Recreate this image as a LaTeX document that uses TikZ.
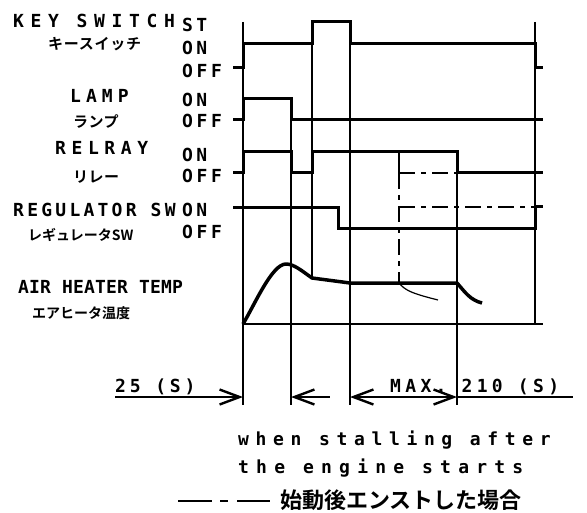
\documentclass[tikz,border=0pt]{standalone}
\usepackage{fontspec}
\newfontfamily\lblfont{DejaVu Sans Mono Bold}
\newfontfamily\jpfont{Noto Sans CJK JP Bold}
\usepackage{tikz}
\usetikzlibrary{arrows.meta}
\tikzstyle{thinline} = [line width=1.2bp]
\tikzstyle{sig} = [line width=3bp]
\tikzstyle{chain} = [line width=1.4bp, dash pattern=on 16bp off 6bp on 5bp off 6bp]
\tikzstyle{span} = [line width=1.2bp]
\tikzset{
  lbl/.style={inner sep=0pt, anchor=base west,
    font=\fontsize{18bp}{18bp}\lblfont\addfontfeature{LetterSpace=#1}},
  jp/.style={inner sep=0pt, anchor=base west,
    font=\fontsize{15bp}{15bp}\jpfont\addfontfeature{LetterSpace=#1}},
  barb/.tip={Straight Barb[length=20bp, width=15bp, line width=2.4bp]}
}

\begin{document}
\begin{tikzpicture}[x=1bp, y=-1bp]
    \useasboundingbox (0,0) rectangle (587,513);
    % time marks
    \draw[thinline] (243,22) -- (243,405);
    \draw[thinline] (291,99) -- (291,405);
    \draw[thinline] (312,22) -- (312,278);
    \draw[thinline] (350,22) -- (350,405);
    \draw[thinline] (399,152) -- (399,173);
    \draw[chain] (399,173) -- (399,283);
    \draw[thinline] (457,152) -- (457,405);
    \draw[thinline] (535,22) -- (535,324);
    % key switch
    \node[lbl=37] (keyname) at (13,28) {KEY SWITCH};
    \node[jp=5] (keyjp) at (48,50) {キースイッチ};
    \node[lbl=18] (keyst) at (182,32) {ST};
    \node[lbl=18] (keyon) at (182,55) {ON};
    \node[lbl=20] (keyoff) at (182,78) {OFF};
    \draw[sig] (233,68) -- (243,68) -- (243,44) -- (312,44) -- (312,22) -- (350,22)
        -- (350,44) -- (535,44) -- (535,68) -- (543,68);
    % lamp
    \node[lbl=28] (lampname) at (70,103) {LAMP};
    \node[jp=3] (lampjp) at (73,128) {ランプ};
    \node[lbl=18] (lampon) at (182,107) {ON};
    \node[lbl=20] (lampoff) at (182,128) {OFF};
    \draw[sig] (233,120) -- (243,120) -- (243,99) -- (291,99) -- (291,120) -- (543,120);
    % relay
    \node[lbl=31] (relayname) at (55,155) {RELRAY};
    \node[jp=3] (relayjp) at (73,183) {リレー};
    \node[lbl=18] (relayon) at (182,162) {ON};
    \node[lbl=20] (relayoff) at (182,183) {OFF};
    \draw[sig] (233,173) -- (243,173) -- (243,152) -- (291,152) -- (291,173) -- (312,173)
        -- (312,152) -- (457,152) -- (457,173) -- (543,173);
    \draw[chain] (399,173) -- (457,173);
    % regulator sw
    \node[lbl=18] (regname) at (13,217) {REGULATOR SW};
    \node[jp=0, font=\fontsize{14bp}{14bp}\jpfont] (regjp) at (28,240) {レギュレータSW};
    \node[lbl=18] (regon) at (182,217) {ON};
    \node[lbl=20] (regoff) at (182,238) {OFF};
    \draw[sig] (233,208) -- (338,208) -- (338,228) -- (535,228) -- (535,207) -- (543,207);
    \draw[chain] (399,207) -- (535,207);
    % air heater temp
    \node[lbl=1] (tempname) at (18,293) {AIR HEATER TEMP};
    \node[jp=0, font=\fontsize{14bp}{14bp}\jpfont] (tempjp) at (32,318) {エアヒータ温度};
    \draw[thinline] (243,324) -- (543,324);
    \draw[sig, line width=3.5bp, line join=round] (243,324) .. controls (255,304) and (272,264) .. (286,264)
        .. controls (294,264) and (302,271) .. (312,278) -- (350,283) -- (457,283)
        .. controls (465,292) and (470,300) .. (482,303);
    \draw[thinline] (399,283) .. controls (405,290) and (410,293) .. (438,300);
    % durations
    \coordinate (l0) at (115,397);
    \coordinate (t0) at (243,397);
    \coordinate (t1) at (291,397);
    \coordinate (r1) at (330,397);
    \coordinate (t3) at (350,397);
    \coordinate (t5) at (457,397);
    \coordinate (r5) at (573,397);
    \draw[span, -barb] (l0) -- (t0);
    \draw[span, barb-] (t1) -- (r1);
    \draw[span, barb-barb] (t3) -- (t5);
    \draw[span] (t5) -- (r5);
    \node[lbl=21] (short) at (115,392) {25 (S)};
    \node[lbl=24] (long) at (390,392) {MAX. 210 (S)};
    % note
    \node[lbl=37] (note1) at (238,445) {when stalling after};
    \node[lbl=40] (note2) at (238,473) {the engine starts};
    \draw[line width=1.4bp, dash pattern=on 34bp off 8bp on 8bp off 9bp] (178,501) -- (270,501);
    \node[jp=0, font=\fontsize{22bp}{22bp}\jpfont] (note3) at (280,508) {始動後エンストした場合};
\end{tikzpicture}
\end{document}
